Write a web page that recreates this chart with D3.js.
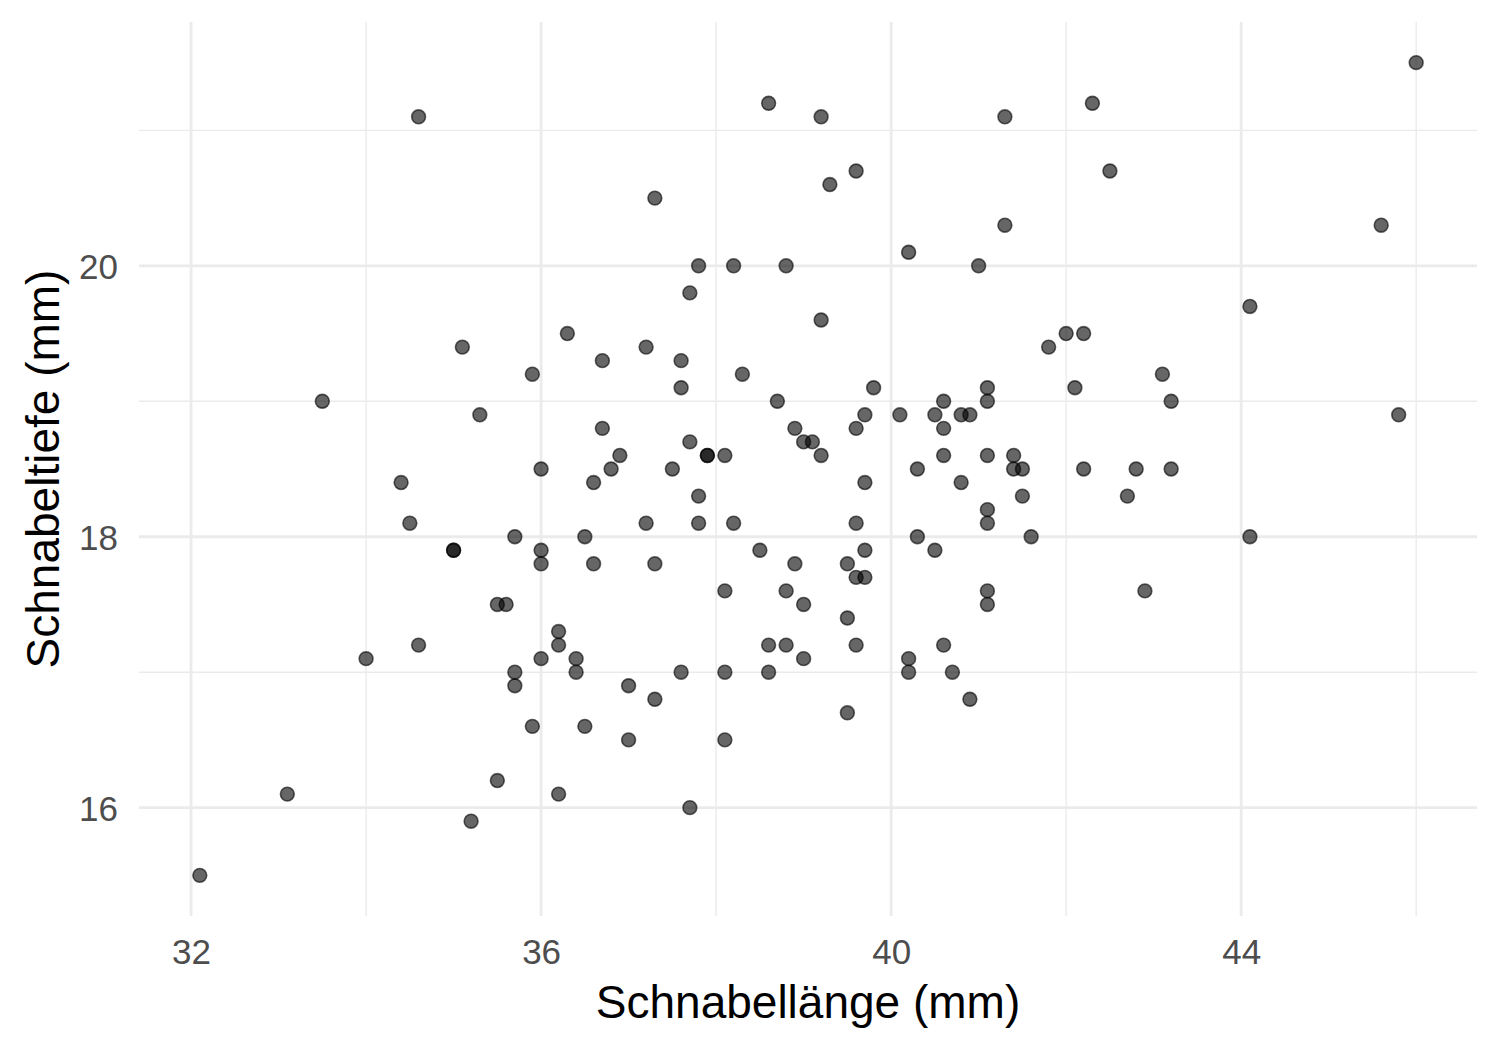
<!DOCTYPE html>
<html>
<head>
<meta charset="utf-8">
<script src="https://cdn.jsdelivr.net/npm/d3@7"></script>
<style>
  body { margin: 0; background: #fff; }
  text { font-family: "Liberation Sans", Arial, sans-serif; }
</style>
</head>
<body>
<div id="chart"></div>
<script>
// Adelie penguins, complete cases
let billLength = [39.1,39.5,40.3,36.7,39.3,38.9,39.2,41.1,38.6,34.6,36.6,38.7,42.5,34.4,46.0,37.8,37.7,35.9,38.2,38.8,
  35.3,40.6,40.5,37.9,40.5,39.5,37.2,39.5,40.9,36.4,39.2,38.8,42.2,37.6,39.8,36.5,40.8,36.0,44.1,37.0,
  39.6,41.1,36.0,42.3,39.6,40.1,35.0,42.0,34.5,41.4,39.0,40.6,36.5,37.6,35.7,41.3,37.6,41.1,36.4,41.6,
  35.5,41.1,35.9,41.8,33.5,39.7,39.6,45.8,35.5,42.8,40.9,37.2,36.2,42.1,34.6,42.9,36.7,35.1,37.3,41.3,
  36.3,36.9,38.3,38.9,35.7,41.1,34.0,39.6,36.2,40.8,38.1,40.3,33.1,43.2,35.0,41.0,37.7,37.8,37.9,39.7,
  38.6,38.2,38.1,43.2,38.1,45.6,39.7,42.2,39.6,42.7,38.6,37.3,35.7,41.1,36.2,37.7,40.2,41.4,35.2,40.6,
  38.8,41.5,39.0,44.1,38.5,43.1,36.8,37.5,38.1,41.1,35.6,40.2,37.0,39.7,40.2,40.6,32.1,40.7,37.3,39.0,
  39.2,36.6,36.0,37.8,36.0,41.5];
let billDepth = [18.7,17.4,18.0,19.3,20.6,17.8,19.6,17.6,21.2,21.1,17.8,19.0,20.7,18.4,21.5,18.3,18.7,19.2,18.1,17.2,
  18.9,18.6,17.9,18.6,18.9,16.7,18.1,17.8,18.9,17.0,21.1,20.0,18.5,19.3,19.1,18.0,18.4,18.5,19.7,16.9,
  18.8,19.0,17.9,21.2,17.7,18.9,17.9,19.5,18.1,18.6,17.5,18.8,16.6,19.1,16.9,21.1,17.0,18.2,17.1,18.0,
  16.2,19.1,16.6,19.4,19.0,18.4,17.2,18.9,17.5,18.5,16.8,19.4,16.1,19.1,17.2,17.6,18.8,19.4,17.8,20.3,
  19.5,18.6,19.2,18.8,18.0,18.1,17.1,18.1,17.3,18.9,18.6,18.5,16.1,18.5,17.9,20.0,16.0,20.0,18.6,18.9,
  17.2,20.0,17.0,19.0,16.5,20.3,17.7,19.5,20.7,18.3,17.0,20.5,17.0,18.6,17.2,19.8,17.0,18.5,15.9,19.0,
  17.6,18.3,17.1,18.0,17.9,19.2,18.5,18.5,17.6,17.5,17.5,20.1,16.5,17.9,17.1,17.2,15.5,17.0,16.8,18.7,
  18.6,18.4,17.8,18.1,17.1,18.5];

let xMajor = [32, 36, 40, 44];
let xMinor = [34, 38, 42, 46];
let yMajor = [16, 18, 20];
let yMinor = [17, 19, 21];

let data = billLength.map((d, i) => ({ x: d, y: billDepth[i] }));

let svgWidth = 1500;
let svgHeight = 1050;
let margin = { top: 22, right: 23, bottom: 134, left: 139 };
let width = svgWidth - margin.left - margin.right;
let height = svgHeight - margin.top - margin.bottom;

let svg = d3.select("#chart")
  .append("svg")
  .attr("width", svgWidth)
  .attr("height", svgHeight);

let chartGroup = svg.append("g")
  .attr("transform", `translate(${margin.left}, ${margin.top})`);

// ggplot-style 5% expansion
let xExt = d3.extent(billLength);
let yExt = d3.extent(billDepth);
let xPad = (xExt[1] - xExt[0]) * 0.05;
let yPad = (yExt[1] - yExt[0]) * 0.05;

let xScale = d3.scaleLinear()
  .domain([xExt[0] - xPad, xExt[1] + xPad])
  .range([0, width]);

let yScale = d3.scaleLinear()
  .domain([yExt[0] - yPad, yExt[1] + yPad])
  .range([height, 0]);

// grid lines
chartGroup.selectAll(".xminor").data(xMinor).enter().append("line")
  .attr("x1", d => xScale(d)).attr("x2", d => xScale(d))
  .attr("y1", 0).attr("y2", height)
  .attr("stroke", "#ebebeb").attr("stroke-width", 1.4);
chartGroup.selectAll(".yminor").data(yMinor).enter().append("line")
  .attr("y1", d => yScale(d)).attr("y2", d => yScale(d))
  .attr("x1", 0).attr("x2", width)
  .attr("stroke", "#ebebeb").attr("stroke-width", 1.4);
chartGroup.selectAll(".xmajor").data(xMajor).enter().append("line")
  .attr("x1", d => xScale(d)).attr("x2", d => xScale(d))
  .attr("y1", 0).attr("y2", height)
  .attr("stroke", "#ebebeb").attr("stroke-width", 2.8);
chartGroup.selectAll(".ymajor").data(yMajor).enter().append("line")
  .attr("y1", d => yScale(d)).attr("y2", d => yScale(d))
  .attr("x1", 0).attr("x2", width)
  .attr("stroke", "#ebebeb").attr("stroke-width", 2.8);

// axes (labels only)
let bottomAxis = d3.axisBottom(xScale).tickValues(xMajor).tickFormat(d3.format("d"))
  .tickSize(0).tickPadding(23);
let leftAxis = d3.axisLeft(yScale).tickValues(yMajor).tickFormat(d3.format("d"))
  .tickSize(0).tickPadding(21);

let xAxisG = chartGroup.append("g")
  .attr("transform", `translate(0, ${height})`)
  .call(bottomAxis);
let yAxisG = chartGroup.append("g").call(leftAxis);

[xAxisG, yAxisG].forEach(g => {
  g.select(".domain").remove();
  g.attr("font-size", null).attr("font-family", null);
  g.selectAll("text")
    .attr("fill", "#4d4d4d")
    .style("font-size", "35px")
    .style("font-family", "'Liberation Sans', Arial, sans-serif");
});
yAxisG.selectAll("text").attr("dy", "0.36em");

// points
chartGroup.selectAll(".pt")
  .data(data)
  .enter()
  .append("circle")
  .attr("cx", d => xScale(d.x))
  .attr("cy", d => yScale(d.y))
  .attr("r", 6.9)
  .attr("fill", "#000")
  .attr("fill-opacity", 0.6)
  .attr("stroke", "#000")
  .attr("stroke-opacity", 0.6)
  .attr("stroke-width", 1.6);

// axis titles
svg.append("text")
  .attr("x", margin.left + width / 2)
  .attr("y", 1018)
  .attr("text-anchor", "middle")
  .style("font-size", "46px")
  .attr("fill", "#000")
  .text("Schnabellänge (mm)");

svg.append("text")
  .attr("transform", `translate(59, ${margin.top + height / 2}) rotate(-90)`)
  .attr("text-anchor", "middle")
  .style("font-size", "46px")
  .attr("fill", "#000")
  .text("Schnabeltiefe (mm)");
</script>
</body>
</html>
